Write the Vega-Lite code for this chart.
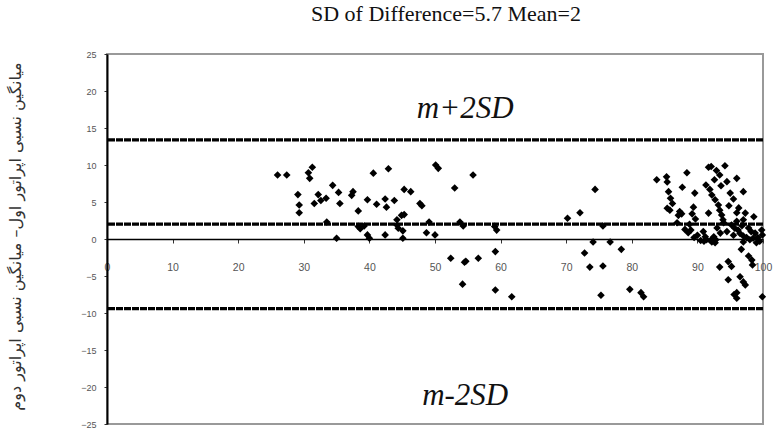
{
  "$schema": "https://vega.github.io/schema/vega-lite/v6.json",
  "width": 656,
  "height": 370,
  "autosize": "none",
  "padding": {"left": 107, "top": 54, "right": 10, "bottom": 6},
  "background": "white",
  "title": {
    "text": "SD of Difference=5.7 Mean=2",
    "font": "Liberation Serif, Times New Roman, serif",
    "fontSize": 22,
    "fontWeight": "normal",
    "color": "#111",
    "offset": 24,
    "dx": 11
  },
  "config": {
    "view": {"stroke": "#999", "strokeWidth": 2},
    "title": {"font": "Liberation Serif, Times New Roman, serif", "fontSize": 22, "fontWeight": "normal", "color": "#111"}
  },
  "datasets": {
    "points": [
      {"avg": 26.0, "diff": 8.65}, {"avg": 27.4, "diff": 8.65}, {"avg": 30.7, "diff": 8.96}, {"avg": 31.3, "diff": 9.7},
      {"avg": 30.9, "diff": 8.2}, {"avg": 34.4, "diff": 7.25}, {"avg": 29.1, "diff": 6.0}, {"avg": 29.3, "diff": 4.6},
      {"avg": 29.3, "diff": 3.55}, {"avg": 31.6, "diff": 4.8}, {"avg": 32.2, "diff": 6.0}, {"avg": 32.6, "diff": 5.2},
      {"avg": 33.4, "diff": 5.5}, {"avg": 35.3, "diff": 6.3}, {"avg": 35.5, "diff": 4.8}, {"avg": 37.3, "diff": 5.9},
      {"avg": 37.5, "diff": 6.4}, {"avg": 38.3, "diff": 3.8}, {"avg": 40.6, "diff": 8.9}, {"avg": 42.9, "diff": 9.5},
      {"avg": 39.7, "diff": 5.3}, {"avg": 41.1, "diff": 4.7}, {"avg": 42.4, "diff": 5.4}, {"avg": 42.6, "diff": 4.3},
      {"avg": 43.8, "diff": 5.2}, {"avg": 45.3, "diff": 6.7}, {"avg": 46.3, "diff": 6.4}, {"avg": 47.7, "diff": 4.8},
      {"avg": 48.0, "diff": 4.5}, {"avg": 50.1, "diff": 10.0}, {"avg": 50.5, "diff": 9.55}, {"avg": 55.8, "diff": 8.65},
      {"avg": 53.0, "diff": 6.9}, {"avg": 44.9, "diff": 3.2}, {"avg": 45.3, "diff": 3.3}, {"avg": 44.2, "diff": 2.6},
      {"avg": 33.5, "diff": 2.3}, {"avg": 38.3, "diff": 1.7}, {"avg": 38.6, "diff": 1.4}, {"avg": 39.2, "diff": 1.75},
      {"avg": 44.2, "diff": 1.9}, {"avg": 44.4, "diff": 1.45}, {"avg": 49.1, "diff": 2.3}, {"avg": 53.8, "diff": 2.3},
      {"avg": 54.3, "diff": 1.75}, {"avg": 59.1, "diff": 1.7}, {"avg": 59.4, "diff": 1.2}, {"avg": 39.7, "diff": 0.55},
      {"avg": 40.0, "diff": 0.1}, {"avg": 42.4, "diff": 0.55}, {"avg": 45.1, "diff": 1.1}, {"avg": 45.1, "diff": 0.1},
      {"avg": 48.7, "diff": 0.85}, {"avg": 50.0, "diff": 0.55}, {"avg": 35.0, "diff": 0.1}, {"avg": 59.2, "diff": -1.7},
      {"avg": 52.4, "diff": -2.6}, {"avg": 54.5, "diff": -3.15}, {"avg": 54.7, "diff": -3.0}, {"avg": 56.6, "diff": -2.6},
      {"avg": 54.2, "diff": -6.1}, {"avg": 59.2, "diff": -6.9}, {"avg": 61.7, "diff": -7.8}, {"avg": 70.2, "diff": 2.8},
      {"avg": 72.1, "diff": 3.55}, {"avg": 74.4, "diff": 6.7}, {"avg": 75.6, "diff": 1.75}, {"avg": 74.1, "diff": -0.4},
      {"avg": 76.7, "diff": -0.4}, {"avg": 72.8, "diff": -1.9}, {"avg": 73.6, "diff": -3.8}, {"avg": 75.6, "diff": -3.65},
      {"avg": 78.4, "diff": -1.4}, {"avg": 75.3, "diff": -7.6}, {"avg": 79.7, "diff": -6.8}, {"avg": 81.4, "diff": -7.25},
      {"avg": 81.8, "diff": -7.8}, {"avg": 83.8, "diff": 8.0}, {"avg": 85.3, "diff": 8.4}, {"avg": 85.4, "diff": 7.7},
      {"avg": 85.6, "diff": 6.4}, {"avg": 85.9, "diff": 5.5}, {"avg": 86.2, "diff": 4.8}, {"avg": 85.4, "diff": 4.15},
      {"avg": 85.8, "diff": 3.9}, {"avg": 87.3, "diff": 3.7}, {"avg": 87.6, "diff": 3.4}, {"avg": 87.1, "diff": 3.2},
      {"avg": 88.4, "diff": 8.96}, {"avg": 87.7, "diff": 7.0}, {"avg": 89.6, "diff": 6.2}, {"avg": 89.4, "diff": 4.3},
      {"avg": 89.7, "diff": 2.7}, {"avg": 86.9, "diff": 2.2}, {"avg": 88.1, "diff": 1.3}, {"avg": 88.6, "diff": 0.85},
      {"avg": 89.5, "diff": 0.2}, {"avg": 90.9, "diff": 1.0}, {"avg": 91.7, "diff": 3.5}, {"avg": 91.3, "diff": 7.3},
      {"avg": 91.7, "diff": 9.7}, {"avg": 92.1, "diff": 9.8}, {"avg": 92.9, "diff": 9.25}, {"avg": 93.4, "diff": 8.65},
      {"avg": 94.2, "diff": 9.9}, {"avg": 94.5, "diff": 7.75}, {"avg": 91.9, "diff": 6.7}, {"avg": 92.2, "diff": 5.95},
      {"avg": 92.7, "diff": 5.3}, {"avg": 93.2, "diff": 4.6}, {"avg": 93.4, "diff": 3.9}, {"avg": 93.7, "diff": 3.25},
      {"avg": 93.9, "diff": 2.6}, {"avg": 95.0, "diff": 6.2}, {"avg": 95.5, "diff": 5.4}, {"avg": 96.0, "diff": 8.2},
      {"avg": 97.0, "diff": 6.4}, {"avg": 96.0, "diff": 3.55}, {"avg": 97.3, "diff": 3.5}, {"avg": 97.0, "diff": 2.6},
      {"avg": 98.6, "diff": 3.0}, {"avg": 95.2, "diff": 1.9}, {"avg": 95.7, "diff": 1.45}, {"avg": 96.2, "diff": 1.2},
      {"avg": 96.5, "diff": 0.75}, {"avg": 97.0, "diff": 0.4}, {"avg": 97.5, "diff": 0.2}, {"avg": 98.0, "diff": -0.1},
      {"avg": 98.5, "diff": 0.1}, {"avg": 99.2, "diff": 0.2}, {"avg": 99.9, "diff": 0.55}, {"avg": 99.8, "diff": 1.2},
      {"avg": 91.4, "diff": -0.1}, {"avg": 92.2, "diff": -0.4}, {"avg": 92.4, "diff": 0.1}, {"avg": 92.7, "diff": -0.5},
      {"avg": 96.7, "diff": -1.4}, {"avg": 97.0, "diff": -0.4}, {"avg": 97.8, "diff": -2.3}, {"avg": 98.3, "diff": -2.85},
      {"avg": 98.4, "diff": -3.5}, {"avg": 93.4, "diff": -3.8}, {"avg": 94.7, "diff": -3.05}, {"avg": 95.2, "diff": -3.7},
      {"avg": 94.7, "diff": -5.5}, {"avg": 96.5, "diff": -5.1}, {"avg": 97.0, "diff": -5.8}, {"avg": 97.3, "diff": -6.2},
      {"avg": 96.0, "diff": -7.25}, {"avg": 95.6, "diff": -7.5}, {"avg": 96.0, "diff": -8.0}, {"avg": 99.9, "diff": -7.8},
      {"avg": 93.0, "diff": 1.5}, {"avg": 94.0, "diff": 2.2}, {"avg": 96.8, "diff": 1.8}, {"avg": 97.8, "diff": 1.5},
      {"avg": 98.8, "diff": 0.8}, {"avg": 99.5, "diff": -0.3}, {"avg": 92.0, "diff": -0.2}, {"avg": 91.0, "diff": -0.3},
      {"avg": 92.5, "diff": 0.3}, {"avg": 88.8, "diff": 2.0}, {"avg": 89.2, "diff": 3.4},
      {"avg": 90.5, "diff": -0.2}, {"avg": 91.2, "diff": 0.3}, {"avg": 92.8, "diff": -0.1}, {"avg": 93.5, "diff": 0.8},
      {"avg": 94.5, "diff": 1.0}, {"avg": 95.5, "diff": 0.5}, {"avg": 96.0, "diff": 2.4}, {"avg": 98.2, "diff": 1.0},
      {"avg": 99.0, "diff": -0.5}, {"avg": 89.0, "diff": 1.2}, {"avg": 90.0, "diff": 0.5}, {"avg": 93.6, "diff": 7.2},
      {"avg": 92.6, "diff": 8.0}, {"avg": 94.8, "diff": 4.5}, {"avg": 96.3, "diff": 4.2}
    ],
    "limits": [
      {"name": "upper", "diff": 13.4},
      {"name": "mean", "diff": 2},
      {"name": "lower", "diff": -9.4}
    ],
    "labels": [
      {"label": "m+2SD", "avg": 54.6, "diff": 16.3},
      {"label": "m-2SD", "avg": 54.6, "diff": -22.4}
    ]
  },
  "encoding": {
    "y": {
      "field": "diff",
      "type": "quantitative",
      "scale": {"domain": [-25, 25], "nice": false},
      "axis": {
        "title": "میانگین نسبی اپراتور اول– میانگین نسبی اپراتور دوم",
        "titleFont": "DejaVu Sans",
        "titleFontSize": 16,
        "titleFontWeight": "normal",
        "titleColor": "#333",
        "titleAngle": -90,
        "titleX": -92,
        "titleY": 182,
        "titleAlign": "center",
        "titleBaseline": "middle",
        "values": [-25, -20, -15, -10, -5, 0, 5, 10, 15, 20, 25],
        "grid": false,
        "domainColor": "black",
        "domainWidth": 2,
        "tickColor": "#333",
        "tickSize": 3,
        "labelPadding": 8,
        "labelFont": "Liberation Sans",
        "labelFontSize": 9,
        "labelColor": "#555",
        "labelFlush": false,
        "labelOverlap": false
      }
    }
  },
  "layer": [
    {
      "data": {"name": "limits"},
      "mark": {"type": "rule", "color": "black", "strokeWidth": 3.2, "strokeDash": [7, 1], "strokeCap": "butt"},
      "encoding": {}
    },
    {
      "data": {"name": "points"},
      "mark": {"type": "point", "shape": "diamond", "filled": true, "color": "black", "size": 58, "opacity": 1},
      "encoding": {
        "x": {
          "field": "avg",
          "type": "quantitative",
          "scale": {"domain": [0, 100], "nice": false},
          "axis": {
            "title": null,
            "values": [0, 10, 20, 30, 40, 50, 60, 70, 80, 90, 100],
            "offset": -185,
            "grid": false,
            "domainColor": "black",
            "domainWidth": 1.5,
            "tickColor": "#333",
            "tickSize": 4,
            "labelPadding": 19,
            "labelFont": "Liberation Sans",
            "labelFontSize": 10.5,
            "labelColor": "#555",
            "labelFlush": false,
            "labelOverlap": false
          }
        }
      }
    },
    {
      "data": {"name": "labels"},
      "mark": {"type": "text", "font": "Liberation Serif", "fontStyle": "italic", "fontSize": 31, "color": "#111", "align": "center", "baseline": "alphabetic"},
      "encoding": {
        "x": {"field": "avg", "type": "quantitative"},
        "text": {"field": "label"}
      }
    }
  ]
}
